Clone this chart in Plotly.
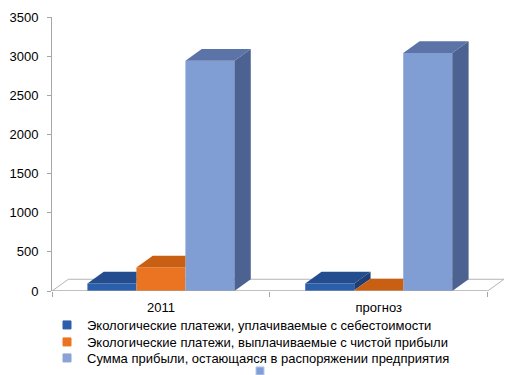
import plotly.graph_objects as go

categories = ["2011", "прогноз"]
series_names = [
    "Экологические платежи, уплачиваемые с себестоимости",
    "Экологические платежи, выплачиваемые с чистой прибыли",
    "Сумма прибыли, остающаяся в распоряжении предприятия",
]
eco_cost = [95, 95]
eco_profit = [300, 8]
profit_left = [2940, 3040]
series_values = [eco_cost, eco_profit, profit_left]
y_ticks = [0, 500, 1000, 1500, 2000, 2500, 3000, 3500]

front_colors = ["#2c5fab", "#ea7421", "#809dd4"]
top_colors = ["#234d8e", "#c85f12", "#5b73a7"]
side_colors = ["#1d3f75", "#a94f10", "#4c6290"]
legend_colors = ["#2c5fab", "#ea7421", "#8aa2d6", "#7f9fd8"]

W, H = 513, 375
BARGAP = 0.325
DX = 0.075   # depth offset along x (data units)
DY = 150     # depth offset along y (data units)
n = len(series_values)
w = (1 - BARGAP) / n
xpos = list(range(len(categories)))

FONT = "Liberation Sans, Arial, sans-serif"

fig = go.Figure()
for i, (name, vals) in enumerate(zip(series_names, series_values)):
    fig.add_trace(go.Bar(
        x=xpos, y=vals, name=name, showlegend=False,
        marker=dict(color=front_colors[i], line=dict(width=0)),
    ))

# legend entries (one legend per entry so each row sits where the original has it)
legend_names = series_names + [""]
legend_pos = [(47, 325), (47, 342), (47, 358), (240, 371)]  # pixel positions
layout_legends = {}
for k, (nm, (lx, ly)) in enumerate(zip(legend_names, legend_pos)):
    key = "legend" if k == 0 else f"legend{k+1}"
    fig.add_trace(go.Scatter(
        x=[None], y=[None], mode="markers", name=nm, legend=key,
        marker=dict(symbol="square", size=8, color=legend_colors[k],
                    line=dict(color="#b8c8ea" if k == 3 else legend_colors[k], width=1)),
        hoverinfo="skip",
    ))
    layout_legends[key] = dict(x=lx / W, y=1 - ly / H,
                               xanchor="left", yanchor="middle",
                               font=dict(size=13, family=FONT, color="#000000"),
                               itemwidth=30, bgcolor="rgba(0,0,0,0)",
                               borderwidth=0, itemclick=False, itemdoubleclick=False)

shapes = []
# floor
x_left, x_right = -0.5, len(categories) - 0.5
floor_col = "#b4b4b4"
shapes.append(dict(type="path", xref="x", yref="y",
                   path=f"M{x_left},0 L{x_left+DX},{DY} L{x_right+DX},{DY} L{x_right},0 Z",
                   line=dict(color=floor_col, width=1), fillcolor="rgba(255,255,255,0)", layer="below"))

for c in xpos:
    for i in range(n):
        v = series_values[i][c]
        x0 = c - (n * w) / 2 + i * w
        x1 = x0 + w
        vnext = series_values[i + 1][c] if i + 1 < n else None
        # side face
        if vnext is None or vnext < v:
            vb = 0 if vnext is None else vnext
            shapes.append(dict(type="path", xref="x", yref="y",
                               path=f"M{x1},{vb} L{x1},{v} L{x1+DX},{v+DY} L{x1+DX},{vb+DY} Z",
                               fillcolor=side_colors[i], line=dict(width=0)))
        # top face
        if vnext is not None and vnext >= v:
            path = f"M{x0},{v} L{x1},{v} L{x1},{v+DY} L{x0+DX},{v+DY} Z"
        else:
            path = f"M{x0},{v} L{x1},{v} L{x1+DX},{v+DY} L{x0+DX},{v+DY} Z"
        shapes.append(dict(type="path", xref="x", yref="y", path=path,
                           fillcolor=top_colors[i], line=dict(width=0)))

# front edge of floor (category axis line)
shapes.append(dict(type="line", xref="x", yref="y", x0=x_left, x1=x_right, y0=0, y1=0,
                   line=dict(color="#a6a6a6", width=1)))

fig.update_layout(
    width=W, height=H,
    margin=dict(l=0, r=0, t=0, b=0, autoexpand=False),
    paper_bgcolor="white", plot_bgcolor="rgba(0,0,0,0)",
    barmode="group", bargap=BARGAP, bargroupgap=0,
    shapes=shapes,
    font=dict(family=FONT, size=13, color="#000000"),
    showlegend=True,
    **layout_legends,
)
fig.update_xaxes(
    domain=[52 / W, 504 / W],
    range=[x_left, x_right + DX],
    tickvals=xpos, ticktext=categories, ticks="", showgrid=False, zeroline=False,
    showline=False, ticklabelstandoff=7, automargin=False,
    minor=dict(tickvals=[x_left + k for k in range(len(categories) + 1)],
               ticks="outside", ticklen=5, tickcolor="#a6a6a6", showgrid=False),
    tickfont=dict(size=13),
)
fig.update_yaxes(
    domain=[1 - 291 / H, 1 - 17 / H],
    range=[0, 3500], tickvals=y_ticks, showgrid=False, zeroline=False,
    showline=True, linecolor="#a6a6a6", linewidth=1, automargin=False,
    ticks="outside", ticklen=4, tickcolor="#a6a6a6", ticklabelstandoff=6,
    tickfont=dict(size=13),
)

fig.write_html("out.html",
               config={"displayModeBar": False},
               post_script="document.body.style.margin='0';document.body.style.overflow='hidden';")
